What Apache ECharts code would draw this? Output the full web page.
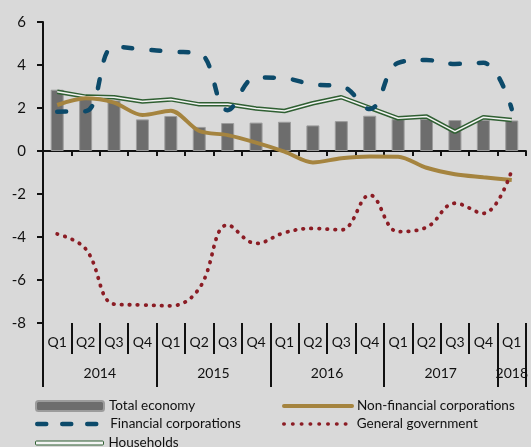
<!DOCTYPE html>
<html>
<head>
<meta charset="utf-8">
<script src="https://cdn.jsdelivr.net/npm/echarts@6/dist/echarts.min.js"></script>
<style>
  html, body { margin: 0; padding: 0; background: #d9d9d9; }
  #chart { width: 531px; height: 447px; }
</style>
</head>
<body>
<div id="chart"></div>
<script>
// categories
const quarters = ['Q1', 'Q2', 'Q3', 'Q4', 'Q1', 'Q2', 'Q3', 'Q4', 'Q1', 'Q2', 'Q3', 'Q4', 'Q1', 'Q2', 'Q3', 'Q4', 'Q1'];
const years = ['2014', '2015', '2016', '2017', '2018'];
const quartersPerYear = [4, 4, 4, 4, 1];

// y axis
const yMin = -8;
const yMax = 6;
const yStep = 2;

// series values (annual growth, %)
const totalEconomy = [2.85, 2.45, 2.35, 1.47, 1.63, 1.12, 1.30, 1.32, 1.36, 1.19, 1.39, 1.64, 1.48, 1.50, 1.44, 1.45, 1.42];
const nonFinancial = [2.14, 2.45, 2.25, 1.67, 1.87, 0.93, 0.74, 0.39, -0.03, -0.53, -0.34, -0.26, -0.27, -0.78, -1.08, -1.22, -1.35];
const financial = [1.83, 1.85, 4.85, 4.73, 4.62, 4.54, 1.90, 3.42, 3.38, 3.10, 3.02, 1.95, 4.10, 4.23, 4.05, 4.10, 1.95];
const government = [-3.86, -4.55, -7.12, -7.16, -7.20, -6.39, -3.44, -4.30, -3.80, -3.60, -3.67, -2.05, -3.75, -3.55, -2.43, -2.90, -0.90];
const households = [2.76, 2.53, 2.50, 2.30, 2.40, 2.17, 2.17, 1.98, 1.86, 2.22, 2.50, 2.01, 1.52, 1.60, 0.90, 1.57, 1.44];

// year boundaries and label centres in quarter units
const yearEdges = [0];
const yearCentres = [];
quartersPerYear.forEach(function (n) {
    const start = yearEdges[yearEdges.length - 1];
    yearCentres.push(start + n / 2);
    yearEdges.push(start + n);
});

const font = 'Lato, "Open Sans", sans-serif';
const ink = '#111';

const chart = echarts.init(document.getElementById('chart'));

const legendText = { fontFamily: font, fontSize: 13.5, color: ink };
const noSymbol = { color: 'rgba(0,0,0,0)', borderWidth: 0 };
function legendAt(left, top, item, extra) {
    return Object.assign({
        left: left,
        top: top,
        orient: 'vertical',
        itemWidth: 68,
        itemHeight: 10,
        itemGap: 0,
        padding: 0,
        selectedMode: false,
        textStyle: legendText,
        data: [item]
    }, extra || {});
}

const option = {
    backgroundColor: '#d9d9d9',
    animation: false,
    grid: { left: 43, top: 22, right: 1, bottom: 124 },
    legend: [
        legendAt(35, 399, 'Total economy'),
        legendAt(35, 417, {
            name: 'Financial corporations',
            itemStyle: noSymbol,
            lineStyle: { width: 4.5, type: [9, 16], cap: 'round' }
        }),
        legendAt(35, 436, {
            name: 'Households',
            icon: 'roundRect',
            itemStyle: { color: '#f4f4f4', borderColor: '#2f5f32', borderWidth: 1 }
        }, { itemHeight: 4 }),
        legendAt(282, 399, {
            name: 'Non-financial corporations',
            itemStyle: noSymbol,
            lineStyle: { width: 4, cap: 'round' }
        }),
        legendAt(282, 417, {
            name: 'General government',
            itemStyle: noSymbol,
            lineStyle: { width: 3.5, type: [0.5, 8.3], cap: 'round' }
        })
    ],
    xAxis: [
        {
            // zero line with small ticks
            type: 'category',
            data: quarters,
            boundaryGap: true,
            axisLine: { onZero: true, lineStyle: { color: ink, width: 2 } },
            axisTick: { show: true, length: 5, lineStyle: { color: ink, width: 2 } },
            axisLabel: { show: false },
            splitLine: { show: false }
        },
        {
            // quarter labels under the plot
            type: 'category',
            data: quarters,
            position: 'bottom',
            boundaryGap: true,
            axisLine: { show: false, onZero: false },
            axisTick: { show: true, length: 31, lineStyle: { color: ink, width: 2 } },
            axisLabel: { margin: 12, fontFamily: font, fontSize: 14, color: ink },
            splitLine: { show: false }
        },
        {
            // year labels and year separators
            type: 'value',
            position: 'bottom',
            min: 0,
            max: yearEdges[yearEdges.length - 1],
            axisLine: { show: false, onZero: false },
            axisTick: { show: true, length: 64, customValues: yearEdges, lineStyle: { color: ink, width: 2 } },
            axisLabel: {
                margin: 43,
                customValues: yearCentres,
                fontFamily: font,
                fontSize: 14,
                color: ink,
                formatter: function (v) {
                    const i = yearCentres.indexOf(v);
                    return i >= 0 ? years[i] : '';
                }
            },
            splitLine: { show: false }
        }
    ],
    yAxis: {
        type: 'value',
        min: yMin,
        max: yMax,
        interval: yStep,
        axisLine: { show: true, lineStyle: { color: ink, width: 2 } },
        axisTick: { show: true, length: 6, lineStyle: { color: ink, width: 2 } },
        axisLabel: { margin: 17, fontFamily: font, fontSize: 15, color: ink },
        splitLine: { show: false }
    },
    series: [
        {
            name: 'Total economy',
            type: 'bar',
            barWidth: 13,
            itemStyle: { color: '#6d6d6d', borderColor: '#9c9c9c', borderWidth: 1 },
            data: totalEconomy
        },
        {
            name: 'Households',
            type: 'line',
            symbol: 'none',
            lineStyle: { color: '#2f5f32', width: 4.5 },
            data: households
        },
        {
            name: 'Households inner',
            type: 'line',
            symbol: 'none',
            lineStyle: { color: '#f4f4f4', width: 1.5 },
            data: households
        },
        {
            name: 'Non-financial corporations',
            type: 'line',
            symbol: 'none',
            smooth: 0.3,
            lineStyle: { color: '#a5843f', width: 4 },
            itemStyle: { color: '#a5843f' },
            data: nonFinancial
        },
        {
            name: 'General government',
            type: 'line',
            symbol: 'none',
            smooth: 0.4,
            lineStyle: { color: '#8b1c24', width: 3.8, type: [0.5, 7.5], cap: 'round' },
            itemStyle: { color: '#8b1c24' },
            data: government
        },
        {
            name: 'Financial corporations',
            type: 'line',
            symbol: 'none',
            smooth: 0.4,
            lineStyle: { color: '#0c4a6a', width: 4.5, type: [9, 19], cap: 'round' },
            itemStyle: { color: '#0c4a6a' },
            data: financial
        }
    ]
};

chart.setOption(option);
</script>
</body>
</html>
